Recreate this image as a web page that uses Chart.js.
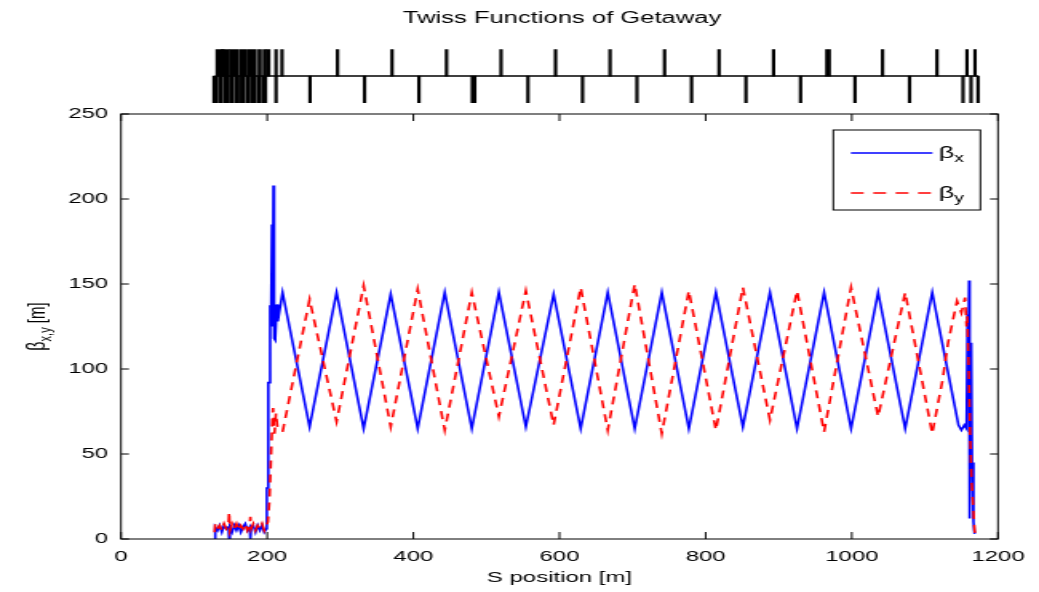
<!DOCTYPE html>
<html>
<head>
<meta charset="utf-8">
<title>Twiss Functions of Getaway</title>
<script src="https://cdn.jsdelivr.net/npm/chart.js@4.4.1/dist/chart.umd.min.js"></script>
<style>
  html, body { margin: 0; padding: 0; background: #fff; }
  #wrap { position: relative; width: 1039px; height: 592px; }
  canvas { position: absolute; left: 0; top: 0; }
</style>
</head>
<body>
<div id="wrap">
  <canvas id="mainChart" width="650" height="592" style="width:1039px;height:592px"></canvas>
  <canvas id="latticeChart" width="650" height="110" style="width:1039px;height:110px"></canvas>
</div>
<script>
// the original figure is stretched sideways, so draw narrow and let CSS widen it
const SX = 650 / 1039;
const FONT = "'Liberation Sans', Arial, Helvetica, sans-serif";

// ---- beta functions, s in metres ----
// low-beta injection section
const injS  = [128, 129, 132, 135, 138, 141, 144, 147, 148, 149, 152, 155, 158, 161, 164, 167, 170, 173, 176, 177, 178, 181, 184, 187, 190, 193, 196, 199];
const injBx = [0, 7, 5, 8, 4, 8, 6, 7, 0, 7, 4, 8, 5, 8, 4, 7, 9, 5, 7, 0, 6, 8, 4, 8, 5, 8, 4, 6];
const injBy = [4, 9, 6, 8, 5, 9, 6, 8, 16, 5, 9, 6, 9, 5, 8, 6, 9, 5, 8, 13, 6, 9, 5, 8, 6, 9, 5, 8];

// matching section
const bxMatchS = [199.5, 201, 201.5, 203.5, 204, 205.5, 206.5, 207.5, 208.5, 209.5, 211, 213, 214.5];
const bxMatch  = [30, 30, 92, 92, 137, 137, 185, 125, 208, 118, 117, 138, 128];
const byMatchS = [201, 203, 205, 207, 208, 210, 212, 214];
const byMatch  = [10, 22, 45, 70, 77, 62, 74, 66];

// FODO arc: focusing / defocusing quad positions
const focusS   = [221, 295, 369, 443, 517, 592, 666, 740, 814, 888, 962, 1036, 1110];
const defocusS = [258, 332, 406, 480, 554, 629, 703, 777, 851, 925, 999, 1073];
const bxAtFocus   = [145, 145, 144, 145, 145, 144, 145, 145, 145, 145, 145, 145, 145];
const bxAtDefocus = [66, 65, 65, 65, 66, 65, 65, 65, 66, 65, 65, 65];
const byAtFocus   = [63, 69, 66, 64, 72, 67, 64, 62, 64, 70, 63, 72, 62];
const byAtDefocus = [141, 149, 147, 145, 146, 148, 150, 146, 148, 146, 148, 145];

// extraction end
const bxEndS = [1146, 1150, 1154, 1157, 1158.5, 1159.5, 1160.5, 1161, 1161.5, 1163.5, 1164.5, 1166.5, 1168];
const bxEnd  = [67, 64, 67, 65, 132, 110, 152, 12, 115, 115, 45, 10, 3];
const byEndS = [1124, 1132, 1144, 1150, 1155, 1157, 1158, 1160, 1162, 1164, 1166, 1168, 1169];
const byEnd  = [93, 116, 140, 133, 142, 125, 131, 100, 60, 33, 20, 5, 3];

// axis ticks
const xTicks = [0, 200, 400, 600, 800, 1000, 1200];
const yTicks = [0, 50, 100, 150, 200, 250];

// ---- lattice elements (top strip) ----
const latticeStart = 128, latticeEnd = 1166;
const upperDense  = [134.7, 142.0, 153.4, 166.1, 178.6];
const upperSmall  = [188.7, 195.5, 200.4];
const upperThin   = [210.9, 219, 294.6, 368.7, 442.9, 517, 591.2, 665.3, 739.5, 813.6, 887.8, 1036.1, 1110.2, 1151, 1161.9];
const upperThick  = [961.9];
const lowerDense  = [127.9, 135.4, 142.9, 150.3, 157.8, 165.3, 172.8, 180.3, 187.8, 195.2];
const lowerThin   = [210.9, 257.1, 331.3, 405.4, 553.7, 627.9, 702, 776.2, 850.3, 924.5, 998.6, 1072.8, 1145.6, 1156.5, 1166];
const lowerThick  = [479.6];

function pts(xs, ys) {
  return xs.map((x, i) => ({ x: x, y: ys[i] }));
}

// alternate focusing / defocusing values along the arc
function arc(aS, aV, bS, bV) {
  const out = [];
  for (let i = 0; i < aS.length; i++) {
    out.push({ x: aS[i], y: aV[i] });
    if (i < bS.length) out.push({ x: bS[i], y: bV[i] });
  }
  return out;
}

const betaX = [].concat(pts(injS, injBx), pts(bxMatchS, bxMatch),
  arc(focusS, bxAtFocus, defocusS, bxAtDefocus), pts(bxEndS, bxEnd));
const betaY = [].concat(pts(injS, injBy), pts(byMatchS, byMatch),
  arc(focusS, byAtFocus, defocusS, byAtDefocus), pts(byEndS, byEnd));

// text made of [text, fontSize, baselineShift] parts, left to right
function partsWidth(ctx, parts) {
  let w = 0;
  parts.forEach(p => { ctx.font = p[1] + 'px ' + FONT; w += ctx.measureText(p[0]).width; });
  return w;
}
function drawParts(ctx, parts, x, y) {
  let cx = x;
  parts.forEach(p => {
    ctx.font = p[1] + 'px ' + FONT;
    ctx.fillText(p[0], cx, y + p[2]);
    cx += ctx.measureText(p[0]).width;
  });
}

// box, inward ticks, y label and legend like a matlab axes
const axesDecor = {
  id: 'axesDecor',
  afterDatasetsDraw(chart) {
    const { ctx, chartArea: a, scales: { x, y } } = chart;
    ctx.save();
    ctx.strokeStyle = '#000';
    ctx.lineWidth = 1;
    ctx.beginPath();
    xTicks.forEach(v => {
      const px = x.getPixelForValue(v);
      ctx.moveTo(px, a.bottom); ctx.lineTo(px, a.bottom - 7);
      ctx.moveTo(px, a.top); ctx.lineTo(px, a.top + 7);
    });
    yTicks.forEach(v => {
      const py = y.getPixelForValue(v);
      ctx.moveTo(a.left, py); ctx.lineTo(a.left + 5, py);
      ctx.moveTo(a.right, py); ctx.lineTo(a.right - 5, py);
    });
    ctx.stroke();
    ctx.strokeRect(a.left, a.top, a.right - a.left, a.bottom - a.top);

    // y axis title with subscript
    ctx.fillStyle = '#000';
    ctx.textBaseline = 'middle';
    ctx.textAlign = 'left';
    ctx.save();
    ctx.translate(38 * SX, (a.top + a.bottom) / 2);
    ctx.rotate(-Math.PI / 2);
    const yParts = [['β', 16, 0], ['x,y', 11, 5], [' [m]', 15, 0]];
    drawParts(ctx, yParts, -partsWidth(ctx, yParts) / 2, 0);
    ctx.restore();

    // legend
    const bw = 92, bh = 80;
    const bx = a.right - 11 - bw, by = a.top + 16;
    ctx.fillStyle = '#fff';
    ctx.fillRect(bx, by, bw, bh);
    ctx.strokeStyle = '#000';
    ctx.lineWidth = 1;
    ctx.strokeRect(bx, by, bw, bh);
    chart.data.datasets.forEach((ds, i) => {
      const ly = by + 23 + i * 40;
      ctx.save();
      ctx.strokeStyle = ds.borderColor;
      ctx.lineWidth = ds.borderWidth;
      ctx.setLineDash(ds.borderDash || []);
      ctx.beginPath();
      ctx.moveTo(bx + 11, ly);
      ctx.lineTo(bx + 62, ly);
      ctx.stroke();
      ctx.restore();
      ctx.fillStyle = '#000';
      drawParts(ctx, [[ds.label.charAt(0), 17, 0], [ds.label.slice(1), 12, 6]], bx + 66, ly);
    });
    ctx.restore();
  }
};

new Chart(document.getElementById('mainChart'), {
  type: 'line',
  data: {
    datasets: [{
      label: 'βx',
      data: betaX,
      borderColor: '#0000ff',
      borderWidth: 1.6,
      pointRadius: 0,
      tension: 0,
      order: 2
    }, {
      label: 'βy',
      data: betaY,
      borderColor: '#ff0000',
      borderWidth: 1.6,
      borderDash: [8, 6],
      pointRadius: 0,
      tension: 0,
      order: 1
    }]
  },
  options: {
    responsive: false,
    animation: false,
    events: [],
    layout: { padding: { top: 114, right: (1039 - 1003) * SX, bottom: 0, left: 0 } },
    plugins: {
      legend: { display: false },
      tooltip: { enabled: false }
    },
    scales: {
      x: {
        type: 'linear',
        min: 0,
        max: 1200,
        afterBuildTicks: s => { s.ticks = xTicks.map(v => ({ value: v })); },
        afterFit: s => { s.height = 592 - 539; },
        grid: { display: false, drawTicks: false },
        border: { display: false },
        ticks: {
          padding: 9,
          color: '#000',
          font: { family: FONT, size: 15 },
          callback: v => String(v)
        },
        title: {
          display: true,
          text: 'S position [m]',
          color: '#000',
          font: { family: FONT, size: 15 },
          padding: { top: 0, bottom: 5 }
        }
      },
      y: {
        type: 'linear',
        min: 0,
        max: 250,
        afterBuildTicks: s => { s.ticks = yTicks.map(v => ({ value: v })); },
        afterFit: s => { s.width = 121 * SX; },
        grid: { display: false, drawTicks: false },
        border: { display: false },
        ticks: {
          padding: 8,
          color: '#000',
          font: { family: FONT, size: 15 }
        }
      }
    }
  },
  plugins: [axesDecor]
});

// lattice strip: one bar per magnet, above (+) or below (-) the beam line
function marks(list, up) {
  return list.map(s => ({ x: s, y: up ? [0, 1] : [-1, 0] }));
}
function magnetSet(list, up, width) {
  return {
    type: 'bar',
    data: marks(list, up),
    backgroundColor: '#000',
    borderWidth: 0,
    barThickness: width,
    grouped: false
  };
}

new Chart(document.getElementById('latticeChart'), {
  type: 'bar',
  data: {
    datasets: [
      {
        type: 'line',
        data: [{ x: latticeStart, y: 0 }, { x: latticeEnd, y: 0 }],
        borderColor: '#000',
        borderWidth: 1.5,
        pointRadius: 0
      },
      magnetSet(upperDense, true, 5),
      magnetSet(upperSmall, true, 2),
      magnetSet(upperThin, true, 1.5),
      magnetSet(upperThick, true, 3),
      magnetSet(lowerDense, false, 2.7),
      magnetSet(lowerThin, false, 1.5),
      magnetSet(lowerThick, false, 3)
    ]
  },
  options: {
    responsive: false,
    animation: false,
    events: [],
    layout: { padding: { top: 0, right: (1039 - 1003) * SX, bottom: 7, left: 121 * SX } },
    plugins: {
      legend: { display: false },
      tooltip: { enabled: false },
      title: {
        display: true,
        text: 'Twiss Functions of Getaway',
        color: '#000',
        font: { family: FONT, size: 16, weight: 'normal' },
        padding: { top: 9, bottom: 21 }
      }
    },
    scales: {
      x: { type: 'linear', min: 0, max: 1200, offset: false, display: false },
      y: { min: -1, max: 1, display: false }
    }
  }
});
</script>
</body>
</html>
